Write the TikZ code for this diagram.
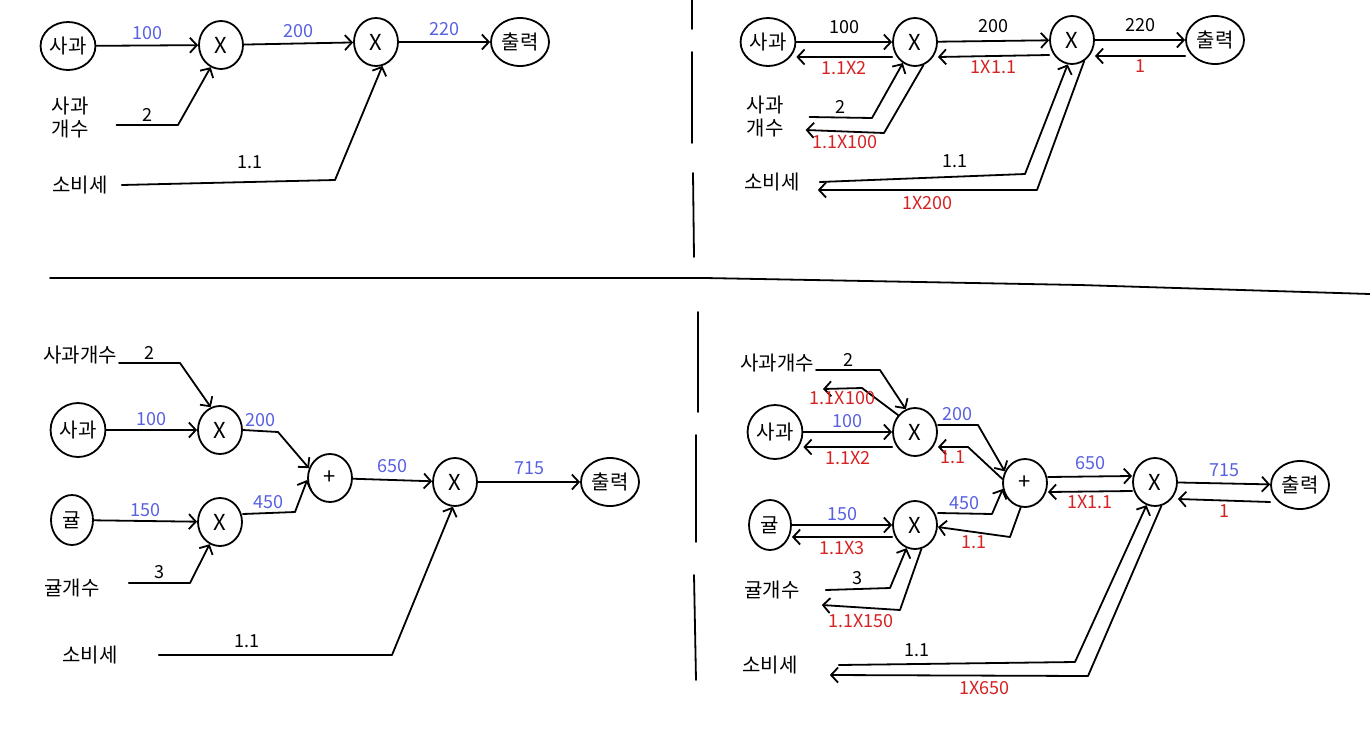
\documentclass[tikz,border=0pt]{standalone}
\usepackage{fontspec}
\setmainfont{Noto Sans CJK KR}
\usetikzlibrary{shapes.geometric,arrows.meta}
\definecolor{cfwd}{RGB}{88,96,226}
\definecolor{cbwd}{RGB}{214,34,34}

\begin{document}
\begin{tikzpicture}[x=1pt,y=-1pt,font=\fontsize{20}{23}\selectfont,
   gate/.style={ellipse, draw, line width=1.8pt, minimum width=44pt, minimum height=48pt,
     inner sep=1pt, font=\fontsize{22}{24}\selectfont},
   term/.style={ellipse, draw, line width=1.8pt, minimum width=48pt, minimum height=48pt, inner sep=1pt},
   var/.style={align=center, inner sep=2pt},
   flow/.style={line width=1.8pt, -{Straight Barb[length=7pt,width=15pt]}, line join=round, line cap=round},
   val/.style={font=\fontsize{18}{19}\selectfont, inner sep=3pt},
   fval/.style={val, text=cfwd}, bval/.style={val, text=cbwd},
   rule/.style={line width=1.8pt, line cap=round}]
  \useasboundingbox (0,0) rectangle (1370,734);
  \draw[rule] (50,278) -- (705,278) -- (1080,285) -- (1370,294);
  \draw[rule] (692,0) -- (692,29) (692,52) -- (692,143) (693,173) -- (694,257);
  \draw[rule] (698,312) -- (698,412) (696,435) -- (696,542) (694,575) -- (696,680);

  \node[term] (tlApple) at (68,46) {사과};
  \node[gate] (tlMulA) at (221,45) {X};
  \node[gate] (tlMulB) at (376,42) {X};
  \node[term, minimum width=58pt] (tlOut) at (520,42) {출력};
  \node[var] (tlCnt) at (70,118) {사과\\개수};
  \node[var] (tlTax) at (80,185) {소비세};
  \draw[flow] (tlApple) -- (tlMulA) node[fval,midway,above=2pt]{100};
  \draw[flow] (tlMulA) -- (tlMulB) node[fval,midway,above=2pt]{200};
  \draw[flow] (tlMulB) -- (tlOut) node[fval,midway,above=2pt]{220};
  \draw[flow] ([xshift=26,yshift=-7]tlCnt.east) -- (178,125) node[val,midway,above]{2} -- (tlMulA.-115);
  \draw[flow] ([xshift=12]tlTax.east) -- (335,180) node[val,pos=0.6,above=9pt]{1.1} -- (tlMulB.-75);

  \node[term] (trApple) at (768,42) {사과};
  \node[gate] (trMulA) at (915,42) {X};
  \node[gate] (trMulB) at (1072,40) {X};
  \node[term, minimum width=58pt] (trOut) at (1215,40) {출력};
  \node[var] (trCnt) at (765,117) {사과\\개수};
  \node[var] (trTax) at (772,182) {소비세};
  \draw[flow] (trApple) -- (trMulA) node[val,midway,above=4pt]{100};
  \draw[flow] ([yshift=-15]trMulA.west) -- ([yshift=-15]trApple.east) node[bval,midway,below]{1.1X2};
  \draw[flow] (trMulA) -- (trMulB) node[val,midway,above=4pt]{200};
  \draw[flow] ([yshift=-15]trMulB.west) -- ([yshift=-15]trMulA.east) node[bval,midway,below]{1X1.1};
  \draw[flow] (trMulB) -- (trOut) node[val,midway,above=4pt]{220};
  \draw[flow] ([yshift=-16]trOut.west) -- ([yshift=-16]trMulB.east) node[bval,midway,below]{1};
  \draw[flow] ([xshift=24]trCnt.east) -- (872,118) node[val,midway,above]{2} -- (trMulA.-120);
  \draw[flow] (trMulA.-70) -- (884,133) -- ([xshift=20,yshift=-13]trCnt.east) node[bval,midway,below]{1.1X100};
  \draw[flow] ([xshift=18]trTax.east) -- (1025,174) node[val,pos=0.66,above=5pt]{1.1} -- (trMulB.-100);
  \draw[flow] (trMulB.-60) -- (1037,190) -- ([xshift=16,yshift=-8]trTax.east) node[bval,midway,below=2pt]{1X200};

  \node[var] (blCntA) at (80,355) {사과개수};
  \node[term, minimum width=50pt, minimum height=54pt] (blApple) at (78,430) {사과};
  \node[gate] (blMulA) at (220,430) {X};
  \node[term, minimum width=42pt, minimum height=50pt] (blOrange) at (72,520) {귤};
  \node[gate] (blMulB) at (220,522) {X};
  \node[gate] (blAdd) at (330,478) {+};
  \node[gate] (blMul) at (455,482) {X};
  \node[term, minimum width=58pt] (blOut) at (610,482) {출력};
  \node[var] (blCntB) at (72,588) {귤개수};
  \node[var] (blTax) at (90,655) {소비세};
  \draw[flow] ([yshift=-8]blCntA.east) -- (180,363) node[val,midway,above]{2} -- (blMulA.112);
  \draw[flow] (blApple) -- (blMulA) node[fval,midway,above]{100};
  \draw[flow] (blMulA.east) -- (278,432) node[fval,midway,above]{200} -- (blAdd.155);
  \draw[flow] (blOrange) -- (blMulB) node[fval,midway,above]{150};
  \draw[flow] ([yshift=8]blMulB.east) -- (295,512) node[fval,midway,above]{450} -- (blAdd.-175);
  \draw[flow] (blAdd) -- (blMul) node[fval,midway,above=3pt]{650};
  \draw[flow] (blMul) -- (blOut) node[fval,midway,above=3pt]{715};
  \draw[flow] ([xshift=27,yshift=5]blCntB.east) -- (190,583) node[val,midway,above]{3} -- (blMulB.-115);
  \draw[flow] ([xshift=39]blTax.east) -- (392,655) node[val,pos=0.38,above=3pt]{1.1} -- (blMul.-95);

  \node[var] (brCntA) at (777,363) {사과개수};
  \node[term, minimum width=50pt, minimum height=54pt] (brApple) at (775,432) {사과};
  \node[gate] (brMulA) at (915,432) {X};
  \node[term, minimum width=42pt, minimum height=50pt] (brOrange) at (770,525) {귤};
  \node[gate] (brMulB) at (915,525) {X};
  \node[gate] (brAdd) at (1025,483) {+};
  \node[gate] (brMul) at (1155,482) {X};
  \node[term, minimum width=58pt] (brOut) at (1300,485) {출력};
  \node[var] (brCntB) at (772,590) {귤개수};
  \node[var] (brTax) at (770,665) {소비세};
  \draw[flow] ([yshift=-7]brCntA.east) -- (880,370) node[val,midway,above]{2} -- (brMulA.112);
  \draw[flow] (brMulA.135) -- (862,388) -- ([xshift=7,yshift=-26]brCntA.east) node[bval,midway,below=-1pt]{1.1X100};
  \draw[flow] (brApple) -- (brMulA) node[fval,midway,above]{100};
  \draw[flow] ([yshift=-15]brMulA.west) -- ([yshift=-15]brApple.east) node[bval,midway,below]{1.1X2};
  \draw[flow] ([yshift=7]brMulA.east) -- (978,425) node[fval,midway,above]{200} -- (brAdd.150);
  \draw[flow] (brAdd.170) -- (968,447) -- ([yshift=-15]brMulA.east) node[bval,midway,below]{1.1};
  \draw[flow] (brOrange) -- (brMulB) node[fval,midway,above]{150};
  \draw[flow] ([yshift=-12]brMulB.west) -- ([yshift=-12]brOrange.east) node[bval,midway,below]{1.1X3};
  \draw[flow] ([yshift=12]brMulB.east) -- (992,514) node[fval,midway,above]{450} -- (brAdd.-165);
  \draw[flow] (brAdd.-100) -- (1010,537) -- ([yshift=-2]brMulB.east) node[bval,midway,below]{1.1};
  \draw[flow] ([xshift=24]brCntB.east) -- (890,588) node[val,midway,above]{3} -- (brMulB.-110);
  \draw[flow] (brMulB.-75) -- (900,610) -- ([xshift=20,yshift=-15]brCntB.east) node[bval,midway,below=3pt]{1.1X150};
  \draw[flow] ([yshift=6]brAdd.east) -- ([yshift=6]brMul.west) node[fval,midway,above=3pt]{650};
  \draw[flow] ([yshift=-9]brMul.west) -- ([yshift=-9]brAdd.east) node[bval,midway,below]{1X1.1};
  \draw[flow] (brMul) -- (brOut) node[fval,midway,above=3pt]{715};
  \draw[flow] ([yshift=-17]brOut.west) -- ([yshift=-17]brMul.east) node[bval,midway,below]{1};
  \draw[flow] ([xshift=39]brTax.east) -- (1075,662) node[val,pos=0.33,above=3pt]{1.1} -- (brMul.-110);
  \draw[flow] (brMul.-75) -- (1088,676) -- ([xshift=30,yshift=-10]brTax.east) node[bval,pos=0.4,below=2pt]{1X650};
\end{tikzpicture}
\end{document}
